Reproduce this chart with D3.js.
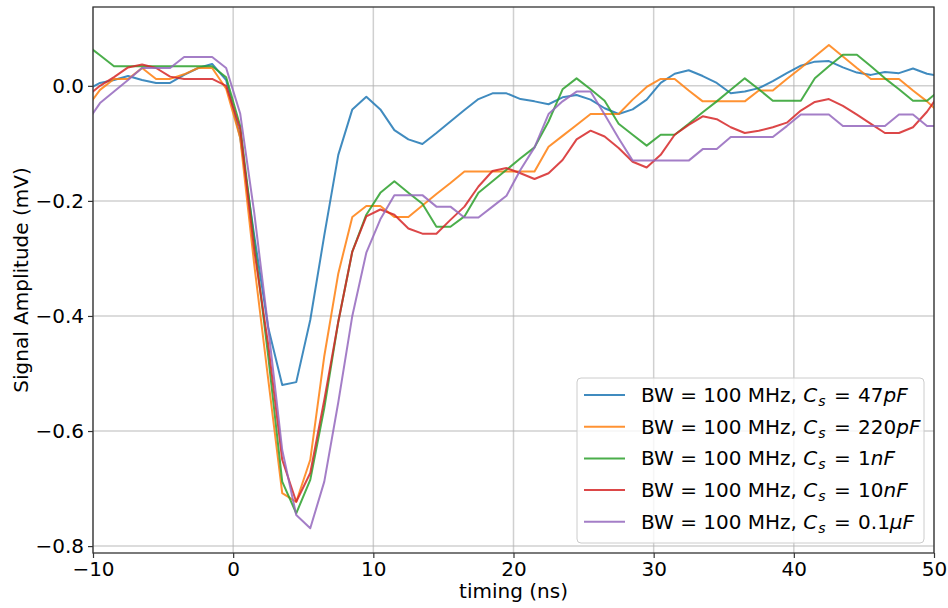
<!DOCTYPE html>
<html>
<head>
<meta charset="utf-8">
<script src="https://cdn.jsdelivr.net/npm/d3@7"></script>
<style>
    body { margin: 0; background: #fff; overflow: hidden; }
    svg { display: block; font-family: "DejaVu Sans", sans-serif; }
</style>
</head>
<body>
<div id="chart"></div>
<script>
// sample times (ns), one point per ns
const timing = [-10.5, -9.5, -8.5, -7.5, -6.5, -5.5, -4.5, -3.5, -2.5, -1.5, -0.5,
    0.5, 1.5, 2.5, 3.5, 4.5, 5.5, 6.5, 7.5, 8.5, 9.5,
    10.5, 11.5, 12.5, 13.5, 14.5, 15.5, 16.5, 17.5, 18.5, 19.5,
    20.5, 21.5, 22.5, 23.5, 24.5, 25.5, 26.5, 27.5, 28.5, 29.5,
    30.5, 31.5, 32.5, 33.5, 34.5, 35.5, 36.5, 37.5, 38.5, 39.5,
    40.5, 41.5, 42.5, 43.5, 44.5, 45.5, 46.5, 47.5, 48.5, 49.5, 50.5];

const cap47pF = [-0.008, 0.005, 0.010, 0.017, 0.010, 0.005, 0.005, 0.019, 0.031, 0.038, 0.010,
    -0.090, -0.260, -0.420, -0.520, -0.515, -0.407, -0.260, -0.120, -0.041, -0.019,
    -0.041, -0.077, -0.093, -0.101, -0.082, -0.062, -0.042, -0.023, -0.013, -0.013,
    -0.023, -0.027, -0.032, -0.020, -0.016, -0.024, -0.039, -0.049, -0.041, -0.024,
    0.005, 0.021, 0.027, 0.017, 0.005, -0.013, -0.010, -0.004, 0.008, 0.022,
    0.035, 0.042, 0.043, 0.032, 0.023, 0.019, 0.024, 0.022, 0.030, 0.021, 0.017];

const cap220pF = [-0.040, -0.007, 0.012, 0.012, 0.031, 0.012, 0.012, 0.020, 0.031, 0.031, -0.005,
    -0.090, -0.310, -0.510, -0.708, -0.723, -0.650, -0.470, -0.326, -0.228, -0.209,
    -0.209, -0.228, -0.228, -0.208, -0.188, -0.169, -0.149, -0.149, -0.149, -0.149,
    -0.149, -0.149, -0.106, -0.087, -0.068, -0.049, -0.049, -0.049, -0.024, -0.002,
    0.012, 0.012, -0.008, -0.027, -0.027, -0.027, -0.027, -0.008, -0.008, 0.012,
    0.031, 0.051, 0.071, 0.051, 0.031, 0.012, 0.012, 0.012, -0.008, -0.027, -0.050];

const cap1nF = [0.072, 0.053, 0.034, 0.034, 0.034, 0.034, 0.034, 0.034, 0.034, 0.034, 0.015,
    -0.070, -0.270, -0.470, -0.688, -0.743, -0.685, -0.560, -0.410, -0.288, -0.224,
    -0.186, -0.166, -0.186, -0.205, -0.245, -0.245, -0.227, -0.186, -0.166, -0.146,
    -0.126, -0.107, -0.062, -0.006, 0.013, -0.006, -0.026, -0.066, -0.085, -0.104,
    -0.085, -0.085, -0.066, -0.046, -0.027, -0.007, 0.013, -0.006, -0.026, -0.026,
    -0.026, 0.013, 0.034, 0.054, 0.054, 0.034, 0.013, -0.006, -0.026, -0.026, -0.006];

const cap10nF = [-0.020, 0.000, 0.015, 0.032, 0.037, 0.031, 0.016, 0.012, 0.012, 0.012, 0.000,
    -0.075, -0.285, -0.450, -0.650, -0.723, -0.673, -0.546, -0.410, -0.288, -0.227,
    -0.215, -0.224, -0.248, -0.257, -0.257, -0.233, -0.210, -0.175, -0.148, -0.143,
    -0.152, -0.162, -0.152, -0.129, -0.093, -0.078, -0.088, -0.108, -0.132, -0.142,
    -0.120, -0.085, -0.068, -0.053, -0.058, -0.072, -0.082, -0.078, -0.072, -0.064,
    -0.043, -0.028, -0.023, -0.035, -0.050, -0.066, -0.082, -0.082, -0.072, -0.045, -0.010];

const cap01uF = [-0.065, -0.030, -0.010, 0.010, 0.031, 0.031, 0.031, 0.050, 0.050, 0.050, 0.031,
    -0.048, -0.220, -0.420, -0.633, -0.746, -0.769, -0.688, -0.550, -0.400, -0.290,
    -0.232, -0.190, -0.190, -0.190, -0.210, -0.210, -0.229, -0.229, -0.210, -0.191,
    -0.146, -0.107, -0.049, -0.027, -0.010, -0.010, -0.050, -0.091, -0.130, -0.130,
    -0.130, -0.130, -0.130, -0.110, -0.110, -0.089, -0.089, -0.089, -0.089, -0.070,
    -0.050, -0.050, -0.050, -0.070, -0.070, -0.070, -0.070, -0.050, -0.050, -0.070, -0.070];

// legend text pieces
const capValues = ['47', '220', '1', '10', '0.1'];
const capUnits = ['pF', 'pF', 'nF', 'nF', '\u03bcF'];
const seriesValues = [cap47pF, cap220pF, cap1nF, cap10nF, cap01uF];

const xTicks = [-10, 0, 10, 20, 30, 40, 50];
const yTicks = [0.0, -0.2, -0.4, -0.6, -0.8];

const colors = ['#1f77b4', '#ff7f0e', '#2ca02c', '#d62728', '#9467bd'];

const width = 948;
const height = 608;
const margin = { top: 7, right: 14, bottom: 55, left: 93 };
const innerWidth = width - margin.left - margin.right;
const innerHeight = height - margin.top - margin.bottom;

const svg = d3.select('#chart')
    .append('svg')
    .attr('width', width)
    .attr('height', height);

const g = svg.append('g')
    .attr('transform', `translate(${margin.left},${margin.top})`);

const x = d3.scaleLinear().domain([-10, 50]).range([0, innerWidth]);
const y = d3.scaleLinear().domain([-0.812, 0.137]).range([innerHeight, 0]);

// grid lines
g.append('g')
    .selectAll('line')
    .data(xTicks)
    .join('line')
    .attr('x1', d => x(d)).attr('x2', d => x(d))
    .attr('y1', 0).attr('y2', innerHeight)
    .attr('stroke', '#b0b0b0')
    .attr('stroke-opacity', 0.6)
    .attr('stroke-width', 1.5);

g.append('g')
    .selectAll('line')
    .data(yTicks)
    .join('line')
    .attr('x1', 0).attr('x2', innerWidth)
    .attr('y1', d => y(d)).attr('y2', d => y(d))
    .attr('stroke', '#b0b0b0')
    .attr('stroke-opacity', 0.6)
    .attr('stroke-width', 1.5);

// clip the lines to the axes box
g.append('clipPath')
    .attr('id', 'plot-clip')
    .append('rect')
    .attr('width', innerWidth)
    .attr('height', innerHeight);

const line = d3.line()
    .x((d, i) => x(timing[i]))
    .y(d => y(d));

g.append('g')
    .attr('clip-path', 'url(#plot-clip)')
    .selectAll('path')
    .data(seriesValues)
    .join('path')
    .attr('d', d => line(d))
    .attr('fill', 'none')
    .attr('stroke', (d, i) => colors[i])
    .attr('stroke-width', 2)
    .attr('stroke-opacity', 0.85)
    .attr('stroke-linejoin', 'round');

// axes
const xAxis = g.append('g')
    .attr('transform', `translate(0,${innerHeight})`)
    .call(d3.axisBottom(x).tickValues(xTicks).tickFormat(d3.format('d')).tickSize(5).tickPadding(4));

const yAxis = g.append('g')
    .call(d3.axisLeft(y).tickValues(yTicks).tickFormat(d3.format('.1f')).tickSize(5).tickPadding(4));

[xAxis, yAxis].forEach(ax => {
    ax.select('.domain').remove();
    ax.selectAll('line').attr('stroke', '#333').attr('stroke-width', 1.2);
    ax.selectAll('text')
        .attr('fill', '#000')
        .style('font-size', '20px')
        .style('font-family', '"DejaVu Sans", sans-serif');
});

// box around the axes
g.append('rect')
    .attr('width', innerWidth)
    .attr('height', innerHeight)
    .attr('fill', 'none')
    .attr('stroke', '#333')
    .attr('stroke-width', 1.3);

// axis labels
svg.append('text')
    .attr('x', margin.left + innerWidth / 2)
    .attr('y', 598)
    .attr('text-anchor', 'middle')
    .style('font-size', '20px')
    .text('timing (ns)');

svg.append('text')
    .attr('transform', `translate(28,${margin.top + innerHeight / 2}) rotate(-90)`)
    .attr('text-anchor', 'middle')
    .style('font-size', '20px')
    .text('Signal Amplitude (mV)');

// legend, lower right
const legend = g.append('g')
    .attr('transform', `translate(${innerWidth - 357},${innerHeight - 175})`);

legend.append('rect')
    .attr('width', 347)
    .attr('height', 165)
    .attr('rx', 4)
    .attr('fill', '#fff')
    .attr('fill-opacity', 0.8)
    .attr('stroke', '#cccccc')
    .attr('stroke-width', 1);

const rows = legend.selectAll('g.row')
    .data(capValues)
    .join('g')
    .attr('class', 'row')
    .attr('transform', (d, i) => `translate(0,${17 + i * 31.7})`);

rows.append('line')
    .attr('x1', 7).attr('x2', 48)
    .attr('stroke', (d, i) => colors[i])
    .attr('stroke-width', 2)
    .attr('stroke-opacity', 0.85);

const label = rows.append('text')
    .attr('x', 64)
    .attr('y', 7)
    .style('font-size', '20px');

label.append('tspan').text('BW = 100 MHz, ');
label.append('tspan').style('font-style', 'italic').text('C');
label.append('tspan')
    .style('font-style', 'italic')
    .style('font-size', '14px')
    .attr('dx', 1)
    .attr('dy', 4)
    .text('s');
label.append('tspan').attr('dy', -4).attr('dx', 2).text(' = ');
label.append('tspan').attr('dx', 1).text(d => d);
label.append('tspan').style('font-style', 'italic').text((d, i) => capUnits[i]);
</script>
</body>
</html>
